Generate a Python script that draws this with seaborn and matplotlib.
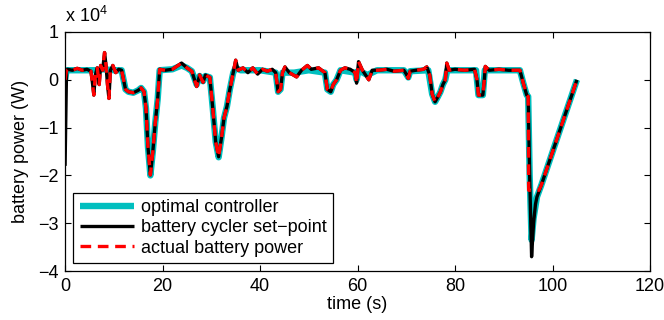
import numpy as np
import pandas as pd
import matplotlib
matplotlib.use("Agg")
import matplotlib.pyplot as plt
import seaborn as sns

# values, power in units of 1e4 W
t_opt = [0.0, 0.3, 2.0, 4.0, 6.0, 8.0, 10.0, 11.6, 12.0, 12.4, 13.0, 14.0, 15.0, 15.6,
         16.2, 16.6, 17.0, 17.5, 18.0, 18.5, 19.0, 19.4, 22.0, 23.9, 25.0, 26.0, 27.0,
         27.6, 28.3, 28.8, 29.7, 30.3, 30.9, 31.5, 32.1, 32.6, 33.2, 33.8, 34.5, 35.0,
         36.0, 40.0, 43.2, 43.7, 44.2, 44.6, 47.0, 50.0, 53.3, 53.8, 54.5, 55.0, 55.7,
         56.5, 59.5, 59.8, 60.2, 62.0, 64.0, 69.5, 70.4, 70.8, 74.5, 75.3, 75.9, 76.5,
         77.0, 77.5, 78.0, 78.4, 84.3, 84.8, 85.7, 86.1, 93.3, 94.0, 94.7, 95.0, 95.3,
         95.7, 96.1, 96.8, 97.7, 105.0]
p_opt = [0.0, 0.2, 0.2, 0.2, 0.2, 0.22, 0.2, 0.2, 0.0, -0.2, -0.25, -0.27, -0.22, -0.17,
         -0.25, -0.6, -1.4, -2.0, -1.5, -0.9, -0.4, 0.2, 0.22, 0.3, 0.25, 0.18, -0.1,
         0.08, -0.03, 0.08, 0.05, -0.6, -1.3, -1.62, -1.2, -0.8, -0.56, -0.2, 0.15, 0.25,
         0.2, 0.2, 0.15, -0.25, -0.2, 0.15, 0.15, 0.2, 0.15, -0.2, -0.25, -0.1, 0.0,
         0.2, 0.15, 0.0, 0.2, 0.1, 0.2, 0.2, 0.05, 0.18, 0.2, -0.3, -0.46, -0.35, -0.25,
         -0.1, 0.0, 0.2, 0.2, -0.32, -0.32, 0.2, 0.2, -0.07, -0.32, -0.35, -2.0, -3.35,
         -2.9, -2.45, -2.2, 0.0]

t_set = [0.0, 0.3, 0.5, 1.5, 2.5, 3.5, 4.5, 5.3, 5.6, 5.9, 6.2, 6.6, 7.0, 7.3, 7.7,
         8.1, 8.4, 8.7, 9.0, 9.3, 9.8, 10.4, 11.0, 11.6, 12.0, 12.4, 13.0, 14.0, 15.0,
         15.6, 16.2, 16.6, 17.0, 17.5, 18.0, 18.5, 19.0, 19.4, 20.5, 22.0, 23.9, 25.0,
         26.0, 27.0, 27.6, 28.3, 28.8, 29.7, 30.3, 30.9, 31.5, 32.1, 32.6, 33.2, 33.8,
         34.5, 35.0, 35.5, 36.5, 37.5, 38.5, 39.5, 40.5, 41.5, 42.5, 43.2, 43.7, 44.2,
         44.6, 45.1, 46.0, 47.5, 48.5, 49.7, 50.5, 52.0, 53.3, 53.8, 54.5, 55.0, 55.7,
         56.5, 57.4, 58.5, 59.5, 59.8, 60.2, 61.0, 62.3, 63.0, 64.3, 66.0, 67.5, 69.5,
         70.0, 70.4, 70.8, 72.0, 73.5, 74.2, 74.8, 75.3, 75.9, 76.5, 77.0, 77.5, 78.0,
         78.3, 78.8, 80.0, 82.0, 84.0, 84.5, 84.8, 85.7, 86.0, 86.2, 87.0, 89.0, 91.0,
         93.3, 94.0, 94.7, 95.0, 95.3, 95.7, 96.1, 96.5, 96.8, 97.7, 105.0]
p_set = [-1.8, 0.2, 0.22, 0.2, 0.24, 0.2, 0.22, 0.18, -0.05, -0.32, 0.1, 0.25, -0.1,
         0.3, 0.2, 0.57, 0.3, -0.1, -0.39, 0.2, 0.3, 0.15, 0.22, 0.2, 0.0, -0.2, -0.25,
         -0.27, -0.22, -0.17, -0.25, -0.6, -1.4, -1.99, -1.5, -0.9, -0.4, 0.22, 0.2,
         0.22, 0.35, 0.25, 0.18, -0.14, 0.1, -0.05, 0.1, 0.05, -0.6, -1.3, -1.61, -1.2,
         -0.8, -0.56, -0.2, 0.15, 0.41, 0.2, 0.25, 0.15, 0.25, 0.12, 0.22, 0.18, 0.22,
         0.15, -0.25, -0.2, 0.15, 0.27, 0.15, 0.06, 0.2, 0.3, 0.22, 0.25, 0.15, -0.2,
         -0.25, -0.1, 0.0, 0.2, 0.25, 0.22, 0.15, -0.07, 0.38, 0.2, 0.0, 0.2, 0.2, 0.22,
         0.18, 0.2, 0.12, 0.03, 0.18, 0.2, 0.22, 0.27, 0.1, -0.3, -0.46, -0.35, -0.25,
         -0.1, 0.0, 0.35, 0.2, 0.22, 0.2, 0.22, 0.0, -0.32, -0.32, 0.0, 0.28, 0.2, 0.22,
         0.2, 0.2, -0.07, -0.32, -0.35, -2.0, -3.7, -3.0, -2.6, -2.45, -2.2, 0.0]

t_act = t_set[:124] + [95.1, 96.0, 97.2, 97.7, 105.0]
p_act = [0.0] + p_set[1:124] + [-2.31, -2.31, -2.31, -2.2, 0.0]

x_ticks = [0, 20, 40, 60, 80, 100, 120]
y_ticks = [-4, -3, -2, -1, 0, 1]

opt = pd.DataFrame({"t": t_opt, "p": np.array(p_opt) * 1e4})
sp = pd.DataFrame({"t": t_set, "p": np.array(p_set) * 1e4})
act = pd.DataFrame({"t": t_act, "p": np.array(p_act) * 1e4})

sns.set_style("ticks")
plt.rcParams["font.family"] = ["Liberation Sans", "DejaVu Sans"]
plt.rcParams["mathtext.fontset"] = "custom"
plt.rcParams["mathtext.rm"] = "Liberation Sans"
plt.rcParams["text.color"] = "black"
plt.rcParams["axes.labelcolor"] = "black"
plt.rcParams["xtick.color"] = "black"
plt.rcParams["ytick.color"] = "black"

fs = 13

fig = plt.figure(figsize=(6.64, 3.2), dpi=100)
ax = fig.add_axes([0.098, 0.153, 0.881, 0.747])

sns.lineplot(data=opt, x="t", y="p", ax=ax, color="#00bfbf", lw=4.6,
             estimator=None, sort=False, label="optimal controller",
             solid_capstyle="butt")
sns.lineplot(data=sp, x="t", y="p", ax=ax, color="black", lw=2.4,
             estimator=None, sort=False, label="battery cycler set\u2212point",
             solid_capstyle="butt")
sns.lineplot(data=act, x="t", y="p", ax=ax, color="red", lw=2.4,
             estimator=None, sort=False, label="actual battery power")
ax.lines[2].set_dashes([3.2, 2])

ax.set_xlim(0, 120)
ax.set_ylim(-4e4, 1e4)
ax.set_xticks(x_ticks)
ax.set_yticks([v * 1e4 for v in y_ticks])
ax.set_yticklabels([str(v).replace("-", "\u2212") for v in y_ticks])
ax.tick_params(direction="in", top=True, right=True, labelsize=fs, length=4, width=0.8,
               pad=5)
for s in ax.spines.values():
    s.set_linewidth(0.9)
    s.set_color("black")
ax.set_xlabel("time (s)", fontsize=fs, labelpad=1)
ax.set_ylabel("battery power (W)", fontsize=fs, labelpad=6)
ax.text(0.0, 1.025, "x 10$^4$", transform=ax.transAxes, fontsize=fs, va="bottom", ha="left")

leg = ax.legend(loc="lower left", fontsize=fs, frameon=True, fancybox=False,
                edgecolor="black", framealpha=1, handlelength=3.0, borderaxespad=0.45,
                labelspacing=0.18, borderpad=0.35, handletextpad=0.4)
leg.get_frame().set_linewidth(0.9)

fig.savefig("out.png", dpi=100)
